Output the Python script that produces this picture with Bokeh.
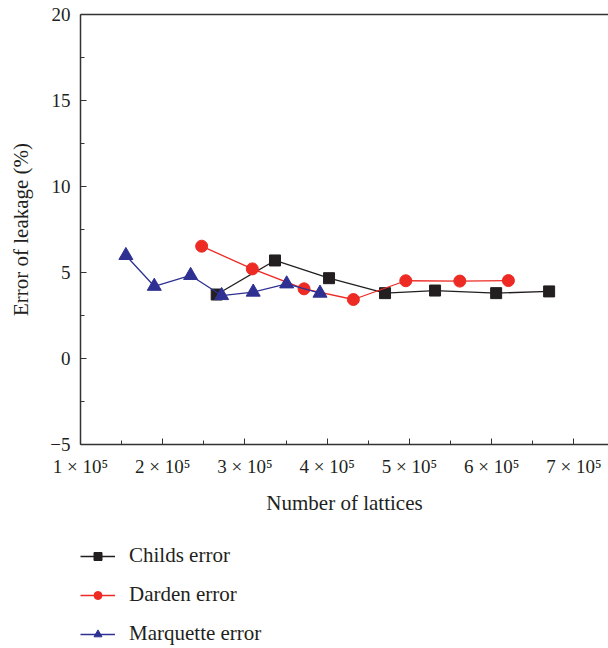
from bokeh.plotting import figure
from bokeh.layouts import column
from bokeh.models import Legend, LegendItem, LinearAxis, FixedTicker, Range1d
from bokeh.embed import file_html
from bokeh.resources import INLINE

# Data
childs_x = [2.656e5, 3.365e5, 4.022e5, 4.703e5, 5.311e5, 6.054e5, 6.698e5]
childs_y = [3.72, 5.70, 4.67, 3.80, 3.95, 3.80, 3.90]

darden_x = [2.473e5, 3.089e5, 3.718e5, 4.318e5, 4.955e5, 5.612e5, 6.203e5]
darden_y = [6.53, 5.21, 4.05, 3.43, 4.52, 4.50, 4.53]

marq_x = [1.552e5, 1.897e5, 2.339e5, 2.716e5, 3.100e5, 3.507e5, 3.912e5]
marq_y = [5.99, 4.20, 4.83, 3.66, 3.86, 4.34, 3.80]

series_names = ["Childs error", "Darden error", "Marquette error"]

x_ticks = [100000, 200000, 300000, 400000, 500000, 600000, 700000]
x_tick_labels = ["1 × 10⁵", "2 × 10⁵", "3 × 10⁵", "4 × 10⁵", "5 × 10⁵", "6 × 10⁵", "7 × 10⁵"]
x_minor = [150000, 250000, 350000, 450000, 550000, 650000, 750000]
y_ticks = [-5, 0, 5, 10, 15, 20]
y_tick_labels = ["−5", "0", "5", "10", "15", "20"]
y_minor = [-2.5, 2.5, 7.5, 12.5, 17.5]

FONT = "Liberation Serif"
AX = "#333333"
BLACK = "#231f20"
RED = "#ee2a24"
BLUE = "#2e3192"

p = figure(width=608, height=524, output_backend="svg", toolbar_location=None,
           x_range=Range1d(100000, 742000), y_range=Range1d(-5, 20),
           min_border_left=80, min_border_right=0, min_border_top=14,
           min_border_bottom=80)
p.frame_width = 528
p.frame_height = 430
p.outline_line_color = None
p.grid.visible = False
p.background_fill_color = "white"
p.border_fill_color = "white"

xa = p.xaxis[0]
xa.ticker = FixedTicker(ticks=x_ticks, minor_ticks=x_minor)
xa.major_label_overrides = {t: l for t, l in zip(x_ticks, x_tick_labels)}
ya = p.yaxis[0]
ya.ticker = FixedTicker(ticks=y_ticks, minor_ticks=y_minor)
ya.major_label_overrides = {t: l for t, l in zip(y_ticks, y_tick_labels)}

for ax in (xa, ya):
    ax.axis_line_color = AX
    ax.axis_line_width = 1.5
    ax.major_tick_line_color = AX
    ax.minor_tick_line_color = AX
    ax.major_tick_in = 6
    ax.major_tick_out = 0
    ax.minor_tick_in = 4
    ax.minor_tick_out = 0
    ax.major_label_text_font = FONT
    ax.major_label_text_font_size = "19px"
    ax.major_label_text_color = "#231f20"
    ax.axis_label_text_font = FONT
    ax.axis_label_text_font_size = "21px"
    ax.axis_label_text_font_style = "normal"
    ax.axis_label_text_color = "#231f20"

xa.axis_label = "Number of lattices"
xa.major_label_standoff = 11
xa.axis_label_standoff = 11
ya.axis_label = "Error of leakage (%)"
ya.major_label_standoff = 10
ya.axis_label_standoff = 14

top = LinearAxis(ticker=FixedTicker(ticks=[]), major_tick_line_color=None,
                 minor_tick_line_color=None, axis_line_color=AX,
                 axis_line_width=1.5)
p.add_layout(top, "above")

p.line(childs_x, childs_y, line_color=BLACK, line_width=1.3)
p.scatter(childs_x, childs_y, marker="square", size=11, fill_color=BLACK, line_color=BLACK)
p.line(darden_x, darden_y, line_color=RED, line_width=1.3)
p.scatter(darden_x, darden_y, marker="circle", size=12, fill_color=RED, line_color=RED)
p.line(marq_x, marq_y, line_color=BLUE, line_width=1.3)
p.scatter(marq_x, marq_y, marker="triangle", size=14, fill_color=BLUE, line_color=BLUE)

# Legend figure below the plot (proxy glyphs placed outside its visible range)
q = figure(width=608, height=124, output_backend="svg", toolbar_location=None,
           x_axis_location=None, y_axis_location=None,
           min_border=0, x_range=Range1d(0, 1), y_range=Range1d(0, 1))
q.outline_line_color = None
q.grid.visible = False
q.border_fill_color = "white"

specs = [(BLACK, "square", 7), (RED, "circle", 7), (BLUE, "triangle", 8)]
items = []
for name, (col, mk, sz) in zip(series_names, specs):
    rl = q.line([5, 6], [5, 6], line_color=col, line_width=1.3)
    rm = q.scatter([5], [5], marker=mk, size=sz, fill_color=col, line_color=col)
    items.append(LegendItem(label=name, renderers=[rl, rm]))

legend = Legend(items=items, location=(0, 2), orientation="vertical",
                padding=0, margin=0, spacing=14, glyph_width=35,
                glyph_height=20, label_height=20, label_standoff=14,
                label_text_font=FONT, label_text_font_size="21px",
                label_text_color="#231f20", border_line_color=None,
                background_fill_alpha=0)
q.add_layout(legend, "center")

layout = column(p, q, spacing=0)
open("out.html", "w").write(file_html(layout, INLINE))
